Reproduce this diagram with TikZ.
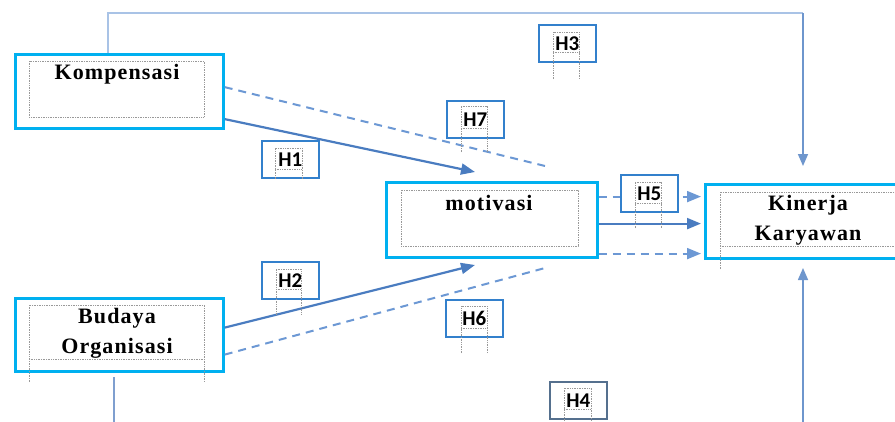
\documentclass[tikz,border=0pt]{standalone}
\usepackage{fontspec}
\setmainfont{Liberation Serif}
\newfontfamily\boxfont[LetterSpace=5,UprightFont={* Bold},BoldFont={* Bold}]{Liberation Serif}
\newfontfamily\hfont[UprightFont={* Bold},BoldFont={* Bold}]{Carlito}
\usetikzlibrary{arrows.meta,calc}
\definecolor{cyanB}{HTML}{00B0F0}
\definecolor{hblue}{HTML}{3380CC}
\definecolor{lineblue}{HTML}{4A7CC0}
\definecolor{dashblue}{HTML}{6C98D4}
\definecolor{toplineblue}{HTML}{A9C3E6}
\definecolor{sideblue}{HTML}{7F9FCF}
\definecolor{hgray}{HTML}{55708E}
\tikzset{
  varbox/.style={draw=cyanB, line width=3.2pt, fill=white, anchor=north west, inner sep=0pt},
  hbox/.style={draw=hblue, line width=1.8pt, fill=white, anchor=north west, inner sep=0pt,
    minimum width=57pt, minimum height=37pt, font=\hfont\fontsize{21}{21}\selectfont},
  vtext/.style={font=\boxfont\fontsize{22}{30}\selectfont, align=center, inner sep=0pt},
  frame/.style={draw=gray!80, densely dotted, line width=0.7pt},
  solidarrow/.style={draw=lineblue, line width=2.2pt, -{Triangle[length=14pt,width=11pt]}},
  dashline/.style={draw=dashblue, line width=2pt, dash pattern=on 8pt off 6pt},
  dasharrow/.style={dashline, -{Triangle[length=14pt,width=11pt]}},
  vertarrow/.style={line width=1.6pt, -{Triangle[length=12pt,width=10pt]}},
}
\begin{document}
\begin{tikzpicture}[x=1pt,y=-1pt]
\useasboundingbox (0,0) rectangle (895,421);
\clip (0,0) rectangle (895,421);

% coordinates
\coordinate (topc) at (803,13);
\coordinate (km) at (475,172);
\coordinate (kd) at (545,166);
\coordinate (bm) at (475,265);
\coordinate (bd) at (545,268);
\coordinate (botl) at (114,430);
\coordinate (botr) at (803,430);

% variable boxes
\node[varbox, minimum width=208pt, minimum height=74pt] (k) at (13.5,52.5) {};
\node[varbox, minimum width=208pt, minimum height=73pt] (b) at (13.5,296.5) {};
\node[varbox, minimum width=211pt, minimum height=75pt] (m) at (384.5,180.5) {};
\node[varbox, minimum width=220pt, minimum height=74pt] (kk) at (703.5,182.5) {};

% inner dotted frames
\draw[frame] (29,61) rectangle (204,117);
\draw[frame] (29,382) -- (29,305) -- (204,305) -- (204,382) (29,359) -- (204,359);
\draw[frame] (401,190) rectangle (578,246);
\draw[frame] (720,269) -- (720,192) -- (900,192) (720,246) -- (900,246);

% texts
\node[vtext] (kt) at (117,74) {Kompensasi};
\node[vtext] (bt) at (117,333) {Budaya\\Organisasi};
\node[vtext] (mt) at (489,203) {motivasi};
\node[vtext] (kkt) at (808,220) {Kinerja\\Karyawan};

% long side paths
\draw[toplineblue, line width=1.5pt] ([xshift=-11pt]k.north) |- (topc);
\draw[vertarrow, draw=lineblue!80, fill=lineblue] (topc) -- (803,166);
\draw[sideblue, line width=1.5pt] (114,377) -- (botl);
\draw[vertarrow, draw=lineblue!80] (botr) -- (803,268);

% connectors to motivasi
\draw[dashline] ([yshift=4pt]k.east) -- (kd);
\draw[solidarrow] ([yshift=-28pt]k.east) -- (km);
\draw[solidarrow] ([yshift=7pt]b.east) -- (bm);
\draw[dashline] ([yshift=-20pt]b.east) -- (bd);

% motivasi -> kinerja
\draw[dasharrow] ([yshift=23pt]m.east) -- ([yshift=23pt]m.east -| 701,0);
\draw[solidarrow] ([yshift=-4pt]m.east) -- ([yshift=-4pt]m.east -| 701,0);
\draw[dasharrow] ([yshift=-34pt]m.east) -- ([yshift=-34pt]m.east -| 701,0);

% hypothesis boxes
\node[hbox] (h1) at (261,140) {H1};
\node[hbox] (h2) at (261,261) {H2};
\node[hbox] (h7) at (446,100) {H7};
\node[hbox] (h5) at (620,174) {H5};
\node[hbox] (h3) at (538,24) {H3};
\node[hbox] (h6) at (445,299) {H6};
\node[hbox, draw=hgray] (h4) at (549,381) {H4};

% hypothesis dotted frames
\foreach \xa/\xb/\ya/\yb/\yc in {275/302/148/169/179, 276/301/269/289/315, 461/487/106/128/152,
  635/661/182/203/228, 553/579/32/52/79, 461/487/306/328/353, 564/591/388/409/421}{
  \draw[frame] (\xa,\yc) -- (\xa,\ya) -- (\xb,\ya) -- (\xb,\yc) (\xa,\yb) -- (\xb,\yb);
}
\end{tikzpicture}
\end{document}
